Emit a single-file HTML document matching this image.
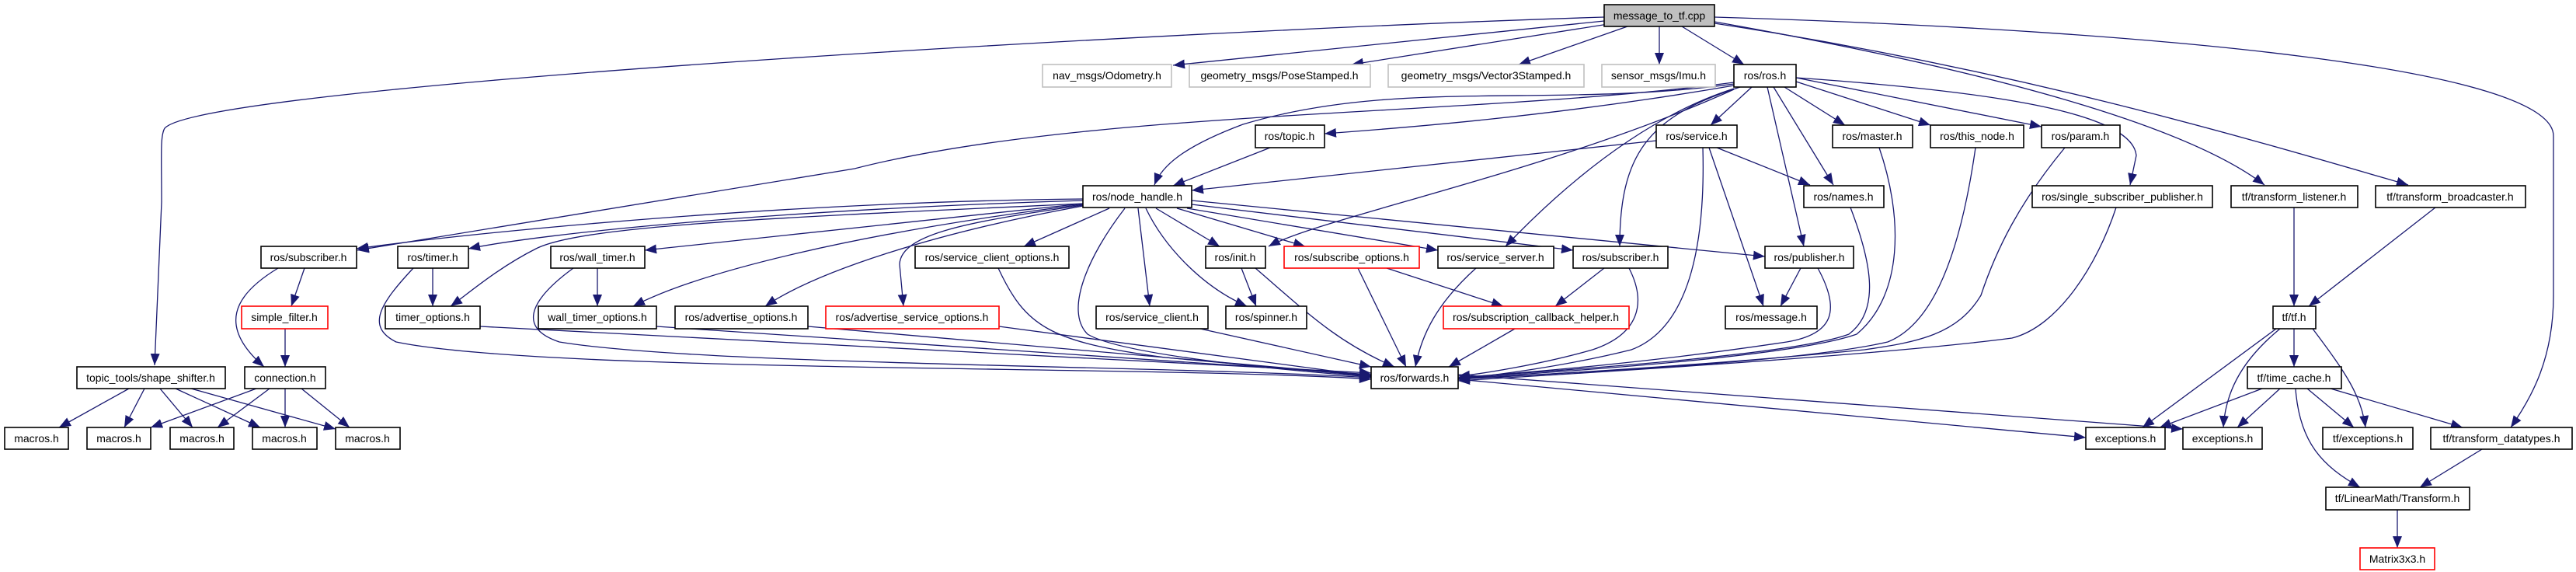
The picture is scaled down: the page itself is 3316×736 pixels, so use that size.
<!DOCTYPE html>
<html><head><meta charset="utf-8"><style>
html,body{margin:0;padding:0;background:#fff;}
svg{display:block}
text{font-family:"Liberation Sans",sans-serif;font-size:14px;fill:#000;text-anchor:middle}
.e{fill:none;stroke:#191970;stroke-width:1.3;marker-end:url(#a)}
.n{fill:#fff;stroke:#000;stroke-width:1.6}
.g{fill:#fff;stroke:#bfbfbf;stroke-width:1.6}
.r{fill:#fff;stroke:#ff0000;stroke-width:1.6}
.c{fill:#bfbfbf;stroke:#000;stroke-width:1.6}
</style></head><body>
<svg width="3316" height="736" viewBox="0 0 3316 736" xmlns="http://www.w3.org/2000/svg">
<defs><marker id="a" markerUnits="userSpaceOnUse" markerWidth="16" markerHeight="12" refX="15" refY="6" orient="auto"><path d="M0,0 L15,6 L0,12 z" fill="#191970"/></marker></defs>
<g>
<path class="e" d="M2065,22 C1500,40 260,110 212,165 C206,175 208,200 208,260 L199,470"/>
<path class="e" d="M2065,27 L1510,84"/>
<path class="e" d="M2070,31 L1740,83"/>
<path class="e" d="M2095,34 L1955,83"/>
<path class="e" d="M2136,34 L2136,83"/>
<path class="e" d="M2165,34 L2245,83"/>
<path class="e" d="M2207,28 C2500,80 2800,150 2915,238"/>
<path class="e" d="M2207,30 C2600,90 2900,180 3100,238"/>
<path class="e" d="M2207,22 C2800,40 3287,90 3287,175 L3287,380 C3287,460 3260,510 3232,550"/>
<path class="e" d="M2232,108 C2000,140 1800,100 1600,160 C1520,190 1495,215 1486,238"/>
<path class="e" d="M2232,110 C2000,150 1800,165 1705,172"/>
<path class="e" d="M2232,106 C1900,150 1400,140 1100,217 L460,322"/>
<path class="e" d="M2255,112 L2202,161"/>
<path class="e" d="M2297,112 L2375,161"/>
<path class="e" d="M2312,105 L2485,161"/>
<path class="e" d="M2312,100 L2628,163"/>
<path class="e" d="M2312,100 C2600,120 2745,150 2750,200 L2742,238"/>
<path class="e" d="M2283,112 L2360,238"/>
<path class="e" d="M2275,112 L2322,317"/>
<path class="e" d="M2232,115 C2000,220 1700,280 1633,317"/>
<path class="e" d="M2232,114 C2150,140 2050,200 1938,317"/>
<path class="e" d="M2240,112 C2120,150 2085,200 2085,317"/>
<path class="e" d="M2132,181 L1534,245"/>
<path class="e" d="M2210,190 L2330,238"/>
<path class="e" d="M2200,190 L2270,394"/>
<path class="e" d="M2192,190 C2195,300 2180,420 2100,450 C2000,475 1900,485 1877,488"/>
<path class="e" d="M1635,190 L1510,239"/>
<path class="e" d="M1394,256 C1000,260 600,300 459,320"/>
<path class="e" d="M1394,258 C1000,270 700,300 603,320"/>
<path class="e" d="M1394,262 C1000,280 750,290 690,320 C640,345 600,380 580,394"/>
<path class="e" d="M1394,262 L830,322"/>
<path class="e" d="M1394,263 C1100,300 900,350 815,394"/>
<path class="e" d="M1394,265 C1200,300 1050,350 985,394"/>
<path class="e" d="M1394,264 C1250,285 1160,300 1158,340 L1163,394"/>
<path class="e" d="M1428,268 L1318,317"/>
<path class="e" d="M1448,268 C1400,330 1370,400 1400,430 C1450,460 1700,480 1765,485"/>
<path class="e" d="M1465,268 L1480,394"/>
<path class="e" d="M1475,268 C1500,320 1550,370 1605,394"/>
<path class="e" d="M1488,268 L1570,317"/>
<path class="e" d="M1515,268 L1680,317"/>
<path class="e" d="M1528,268 L1851,322"/>
<path class="e" d="M1534,263 L2025,322"/>
<path class="e" d="M1534,258 L2272,330"/>
<path class="e" d="M392,345 L375,394"/>
<path class="e" d="M358,345 C300,380 280,420 340,472"/>
<path class="e" d="M367,423 L367,472"/>
<path class="e" d="M557,345 L557,394"/>
<path class="e" d="M532,345 C490,390 470,420 510,440 C700,480 1500,470 1765,488"/>
<path class="e" d="M769,345 L769,394"/>
<path class="e" d="M738,345 C690,380 660,420 720,440 C900,470 1500,470 1765,486"/>
<path class="e" d="M1285,345 C1320,420 1350,440 1500,460 L1765,484"/>
<path class="e" d="M1598,345 L1617,394"/>
<path class="e" d="M1616,345 C1680,400 1720,440 1795,472"/>
<path class="e" d="M1748,345 L1810,472"/>
<path class="e" d="M1785,345 L1935,394"/>
<path class="e" d="M1900,345 C1850,390 1830,430 1822,472"/>
<path class="e" d="M2065,345 L2002,394"/>
<path class="e" d="M2097,345 C2120,390 2110,430 2050,450 C1980,470 1900,482 1877,484"/>
<path class="e" d="M2318,345 L2292,394"/>
<path class="e" d="M2340,345 C2370,400 2360,430 2300,440 C2100,470 1950,480 1877,486"/>
<path class="e" d="M2382,267 C2410,340 2420,400 2380,430 C2300,460 1950,480 1877,486"/>
<path class="e" d="M2419,190 C2450,280 2450,380 2390,430 C2300,462 1950,482 1877,487"/>
<path class="e" d="M2543,190 C2520,350 2480,420 2430,440 C2300,470 1950,482 1877,488"/>
<path class="e" d="M2658,190 C2600,260 2570,320 2550,380 C2520,430 2470,440 2400,450 C2200,470 1950,484 1877,488"/>
<path class="e" d="M2724,267 C2700,340 2650,420 2590,435 C2400,460 1950,485 1877,490"/>
<path class="e" d="M618,420 L1765,480"/>
<path class="e" d="M845,420 L1765,482"/>
<path class="e" d="M1040,420 L1765,483"/>
<path class="e" d="M1286,420 L1765,484"/>
<path class="e" d="M1545,423 L1765,472"/>
<path class="e" d="M1950,423 L1865,472"/>
<path class="e" d="M1877,488 L2685,563"/>
<path class="e" d="M1877,482 L2810,552"/>
<path class="e" d="M330,500 L194,550"/>
<path class="e" d="M347,500 L280,550"/>
<path class="e" d="M367,500 L367,550"/>
<path class="e" d="M388,500 L450,550"/>
<path class="e" d="M166,500 L76,550"/>
<path class="e" d="M186,500 L160,550"/>
<path class="e" d="M206,500 L248,550"/>
<path class="e" d="M226,500 L335,550"/>
<path class="e" d="M246,500 L432,552"/>
<path class="e" d="M2953,267 L2953,394"/>
<path class="e" d="M3135,267 L2972,394"/>
<path class="e" d="M2953,423 L2953,472"/>
<path class="e" d="M2930,423 L2758,550"/>
<path class="e" d="M2935,423 C2890,460 2865,500 2862,550"/>
<path class="e" d="M2977,423 C3020,480 3040,510 3045,550"/>
<path class="e" d="M2912,500 L2780,550"/>
<path class="e" d="M2935,500 L2880,550"/>
<path class="e" d="M2970,500 L3030,550"/>
<path class="e" d="M3000,500 L3170,550"/>
<path class="e" d="M2955,500 C2960,570 2990,600 3038,627"/>
<path class="e" d="M3195,578 L3115,627"/>
<path class="e" d="M3086,656 L3086,705"/>
</g>
<g>
<rect class="c" x="2065" y="6" width="142" height="28"/><text x="2136" y="25">message_to_tf.cpp</text>
<rect class="g" x="1342" y="83" width="166" height="29"/><text x="1425" y="102">nav_msgs/Odometry.h</text>
<rect class="g" x="1531" y="83" width="233" height="29"/><text x="1647" y="102">geometry_msgs/PoseStamped.h</text>
<rect class="g" x="1787" y="83" width="252" height="29"/><text x="1913" y="102">geometry_msgs/Vector3Stamped.h</text>
<rect class="g" x="2062" y="83" width="146" height="29"/><text x="2135" y="102">sensor_msgs/Imu.h</text>
<rect class="n" x="2232" y="83" width="80" height="29"/><text x="2272" y="102">ros/ros.h</text>
<rect class="n" x="1616" y="161" width="89" height="29"/><text x="1660" y="180">ros/topic.h</text>
<rect class="n" x="2132" y="161" width="104" height="29"/><text x="2184" y="180">ros/service.h</text>
<rect class="n" x="2359" y="161" width="103" height="29"/><text x="2410" y="180">ros/master.h</text>
<rect class="n" x="2485" y="161" width="120" height="29"/><text x="2545" y="180">ros/this_node.h</text>
<rect class="n" x="2628" y="161" width="101" height="29"/><text x="2678" y="180">ros/param.h</text>
<rect class="n" x="1394" y="239" width="140" height="28"/><text x="1464" y="258">ros/node_handle.h</text>
<rect class="n" x="2322" y="239" width="103" height="28"/><text x="2373" y="258">ros/names.h</text>
<rect class="n" x="2616" y="239" width="232" height="28"/><text x="2732" y="258">ros/single_subscriber_publisher.h</text>
<rect class="n" x="2872" y="239" width="163" height="28"/><text x="2953" y="258">tf/transform_listener.h</text>
<rect class="n" x="3058" y="239" width="193" height="28"/><text x="3154" y="258">tf/transform_broadcaster.h</text>
<rect class="n" x="336" y="317" width="123" height="28"/><text x="397" y="336">ros/subscriber.h</text>
<rect class="n" x="512" y="317" width="91" height="28"/><text x="557" y="336">ros/timer.h</text>
<rect class="n" x="709" y="317" width="121" height="28"/><text x="769" y="336">ros/wall_timer.h</text>
<rect class="n" x="1178" y="317" width="198" height="28"/><text x="1277" y="336">ros/service_client_options.h</text>
<rect class="n" x="1552" y="317" width="77" height="28"/><text x="1590" y="336">ros/init.h</text>
<rect class="r" x="1653" y="317" width="174" height="28"/><text x="1740" y="336">ros/subscribe_options.h</text>
<rect class="n" x="1851" y="317" width="149" height="28"/><text x="1925" y="336">ros/service_server.h</text>
<rect class="n" x="2025" y="317" width="122" height="28"/><text x="2086" y="336">ros/subscriber.h</text>
<rect class="n" x="2272" y="317" width="114" height="28"/><text x="2329" y="336">ros/publisher.h</text>
<rect class="r" x="311" y="394" width="111" height="29"/><text x="366" y="413">simple_filter.h</text>
<rect class="n" x="496" y="394" width="122" height="29"/><text x="557" y="413">timer_options.h</text>
<rect class="n" x="693" y="394" width="152" height="29"/><text x="769" y="413">wall_timer_options.h</text>
<rect class="n" x="869" y="394" width="171" height="29"/><text x="954" y="413">ros/advertise_options.h</text>
<rect class="r" x="1063" y="394" width="223" height="29"/><text x="1174" y="413">ros/advertise_service_options.h</text>
<rect class="n" x="1411" y="394" width="144" height="29"/><text x="1483" y="413">ros/service_client.h</text>
<rect class="n" x="1578" y="394" width="104" height="29"/><text x="1630" y="413">ros/spinner.h</text>
<rect class="r" x="1858" y="394" width="239" height="29"/><text x="1977" y="413">ros/subscription_callback_helper.h</text>
<rect class="n" x="2221" y="394" width="118" height="29"/><text x="2280" y="413">ros/message.h</text>
<rect class="n" x="2926" y="394" width="55" height="29"/><text x="2953" y="413">tf/tf.h</text>
<rect class="n" x="99" y="472" width="191" height="28"/><text x="194" y="491">topic_tools/shape_shifter.h</text>
<rect class="n" x="315" y="472" width="104" height="28"/><text x="367" y="491">connection.h</text>
<rect class="n" x="1765" y="472" width="112" height="28"/><text x="1821" y="491">ros/forwards.h</text>
<rect class="n" x="2893" y="472" width="121" height="28"/><text x="2953" y="491">tf/time_cache.h</text>
<rect class="n" x="6" y="550" width="82" height="28"/><text x="47" y="569">macros.h</text>
<rect class="n" x="112" y="550" width="82" height="28"/><text x="153" y="569">macros.h</text>
<rect class="n" x="219" y="550" width="82" height="28"/><text x="260" y="569">macros.h</text>
<rect class="n" x="325" y="550" width="83" height="28"/><text x="366" y="569">macros.h</text>
<rect class="n" x="432" y="550" width="83" height="28"/><text x="473" y="569">macros.h</text>
<rect class="n" x="2685" y="550" width="102" height="28"/><text x="2736" y="569">exceptions.h</text>
<rect class="n" x="2810" y="550" width="102" height="28"/><text x="2861" y="569">exceptions.h</text>
<rect class="n" x="2990" y="550" width="116" height="28"/><text x="3048" y="569">tf/exceptions.h</text>
<rect class="n" x="3129" y="550" width="182" height="28"/><text x="3220" y="569">tf/transform_datatypes.h</text>
<rect class="n" x="2994" y="627" width="185" height="29"/><text x="3086" y="646">tf/LinearMath/Transform.h</text>
<rect class="r" x="3038" y="705" width="96" height="28"/><text x="3086" y="724">Matrix3x3.h</text>
</g>
</svg>
</body></html>
